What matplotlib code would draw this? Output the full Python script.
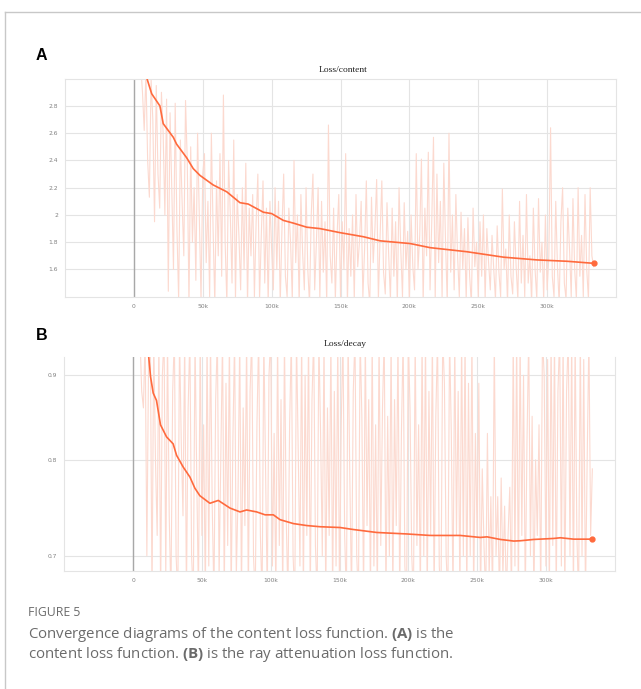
import numpy as np
import matplotlib
matplotlib.use("Agg")
import matplotlib.pyplot as plt
from matplotlib.ticker import FixedLocator, FixedFormatter, NullLocator
from matplotlib.lines import Line2D

plt.rcParams["mathtext.fontset"] = "custom"
plt.rcParams["mathtext.bf"] = "Open Sans:bold"
plt.rcParams["mathtext.rm"] = "Open Sans"

# raw (unsmoothed) training steps, one sample every 1.25k steps
raw_steps = np.arange(5000, 335000, 1250)

content_raw = [
    3.10, 2.90, 2.62, 3.05, 2.40, 2.13, 3.00, 2.70, 1.95, 2.95, 2.30, 2.05, 2.90, 2.60, 2.00, 2.85,
    1.44, 2.75, 2.20, 1.60, 2.82, 1.90, 1.38, 2.55, 2.10, 1.70, 2.84, 2.40, 1.35, 2.50, 1.80, 2.20,
    1.52, 2.60, 2.00, 1.38, 2.30, 2.45, 1.65, 2.10, 1.40, 2.60, 1.90, 1.35, 2.25, 1.70, 2.45, 1.55,
    2.88, 1.80, 1.35, 2.40, 2.00, 1.50, 2.55, 1.38, 2.15, 1.85, 1.45, 2.20, 1.60, 2.38, 1.35, 2.05,
    1.70, 2.15, 1.40, 1.95, 2.30, 1.38, 1.85, 2.25, 1.50, 2.05, 1.35, 2.10, 1.75, 1.45, 2.20, 1.60,
    2.10, 1.35, 1.90, 2.30, 1.55, 1.40, 2.05, 1.80, 1.38, 2.40, 1.65, 2.00, 1.35, 2.15, 1.72, 1.45,
    2.20, 1.60, 1.35, 2.00, 2.30, 1.45, 1.80, 2.20, 1.38, 2.10, 1.58, 1.95, 1.35, 2.66, 1.70, 1.50,
    2.05, 1.38, 1.85, 2.15, 1.40, 1.95, 1.60, 2.45, 1.35, 1.90, 1.55, 2.00, 1.38, 2.15, 1.62, 1.80,
    2.10, 1.40, 1.75, 2.25, 1.50, 1.35, 2.13, 1.65, 1.90, 2.26, 1.38, 1.85, 2.25, 1.58, 1.42, 2.09,
    1.70, 1.38, 2.05, 1.55, 1.95, 1.35, 2.20, 1.75, 1.40, 2.09, 1.60, 1.88, 1.36, 2.00, 1.62, 1.45,
    2.45, 1.60, 1.85, 2.41, 1.36, 2.05, 1.70, 2.46, 1.45, 1.95, 2.57, 1.38, 2.30, 1.65, 2.10, 1.40,
    2.38, 1.80, 1.35, 2.60, 1.58, 2.00, 1.45, 2.15, 1.70, 1.40, 2.02, 1.60, 1.90, 1.38, 1.98, 1.55,
    1.35, 2.05, 1.62, 1.80, 1.40, 1.95, 1.55, 2.00, 1.38, 1.90, 1.65, 1.45, 1.85, 1.60, 1.38, 1.92,
    1.58, 1.40, 2.19, 1.60, 1.75, 1.35, 2.00, 1.55, 1.42, 1.95, 1.62, 1.38, 2.10, 1.50, 1.85, 1.40,
    2.15, 1.50, 1.70, 1.35, 2.05, 1.60, 1.38, 2.12, 1.58, 1.80, 1.38, 2.00, 1.45, 1.70, 2.64, 1.55,
    1.40, 2.10, 1.62, 1.35, 1.95, 2.20, 1.50, 1.38, 2.05, 1.75, 1.40, 2.12, 1.60, 1.38, 2.20, 1.55,
    1.85, 1.40, 2.15, 1.60, 1.38, 2.20, 1.70, 1.62,
]

decay_raw = [
    0.95, 0.88, 0.86, 0.95, 0.70, 0.92, 0.95, 0.66, 0.95, 0.80, 0.72, 0.95, 0.66, 0.90, 0.95, 0.68,
    0.95, 0.74, 0.66, 0.88, 0.95, 0.70, 0.66, 0.95, 0.82, 0.74, 0.95, 0.66, 0.86, 0.95, 0.70, 0.66,
    0.95, 0.78, 0.66, 0.95, 0.72, 0.84, 0.66, 0.95, 0.69, 0.95, 0.75, 0.66, 0.87, 0.95, 0.68, 0.80,
    0.95, 0.66, 0.89, 0.71, 0.95, 0.66, 0.82, 0.95, 0.68, 0.76, 0.95, 0.66, 0.86, 0.73, 0.95, 0.66,
    0.88, 0.95, 0.70, 0.66, 0.84, 0.95, 0.72, 0.66, 0.95, 0.79, 0.66, 0.90, 0.95, 0.69, 0.83, 0.66,
    0.95, 0.71, 0.87, 0.66, 0.95, 0.74, 0.66, 0.84, 0.95, 0.70, 0.66, 0.95, 0.81, 0.69, 0.95, 0.66,
    0.90, 0.72, 0.95, 0.66, 0.87, 0.95, 0.71, 0.66, 0.95, 0.83, 0.70, 0.95, 0.66, 0.86, 0.72, 0.95,
    0.66, 0.88, 0.69, 0.95, 0.66, 0.84, 0.95, 0.72, 0.66, 0.95, 0.78, 0.66, 0.88, 0.95, 0.70, 0.66,
    0.95, 0.85, 0.66, 0.95, 0.73, 0.87, 0.66, 0.95, 0.69, 0.84, 0.66, 0.95, 0.71, 0.86, 0.95, 0.66,
    0.85, 0.70, 0.95, 0.66, 0.87, 0.73, 0.95, 0.66, 0.83, 0.95, 0.69, 0.66, 0.95, 0.86, 0.70, 0.66,
    0.95, 0.71, 0.84, 0.66, 0.95, 0.70, 0.95, 0.66, 0.88, 0.72, 0.95, 0.66, 0.85, 0.95, 0.69, 0.66,
    0.95, 0.89, 0.70, 0.66, 0.95, 0.83, 0.66, 0.95, 0.72, 0.88, 0.66, 0.95, 0.70, 0.95, 0.66, 0.89,
    0.70, 0.95, 0.66, 0.83, 0.72, 0.89, 0.66, 0.79, 0.71, 0.66, 0.83, 0.68, 0.76, 0.66, 0.95, 0.70,
    0.76, 0.66, 0.78, 0.68, 0.75, 0.66, 0.72, 0.77, 0.66, 0.95, 0.69, 0.95, 0.66, 0.95, 0.72, 0.90,
    0.66, 0.82, 0.95, 0.70, 0.85, 0.66, 0.80, 0.72, 0.84, 0.66, 0.95, 0.90, 0.69, 0.92, 0.66, 0.95,
    0.71, 0.95, 0.66, 0.88, 0.95, 0.69, 0.95, 0.66, 0.88, 0.95, 0.70, 0.95, 0.66, 0.95, 0.72, 0.66,
    0.95, 0.70, 0.92, 0.66, 0.80, 0.95, 0.72, 0.79,
]

# smoothed curves, steps in thousands
content_smooth_x = [8.0, 12.9, 18.9, 21.3, 28.6, 31.0, 38.3, 43.1, 48.0, 57.6,
                    67.4, 77.0, 83.0, 94.0, 100.0, 108.5, 115.8, 125.5, 135.0,
                    149.7, 166.7, 178.8, 200.6, 215.0, 241.8, 268.4, 292.6,
                    314.5, 333.8]
content_smooth_y = [3.05, 2.89, 2.80, 2.67, 2.57, 2.52, 2.42, 2.34, 2.29, 2.22,
                    2.17, 2.09, 2.08, 2.02, 2.01, 1.96, 1.94, 1.91, 1.90,
                    1.87, 1.84, 1.81, 1.79, 1.76, 1.73, 1.69, 1.67,
                    1.66, 1.645]

decay_smooth_x = [11.0, 12.7, 14.6, 17.0, 19.9, 24.3, 29.1, 31.6, 36.4, 41.3,
                  44.9, 48.5, 55.8, 61.9, 70.4, 77.7, 82.5, 89.8, 95.9, 101.9,
                  106.8, 116.5, 126.2, 135.9, 150.4, 160.0, 177.0, 199.0,
                  215.9, 237.7, 252.3, 257.2, 266.9, 276.6, 281.4, 291.1,
                  305.7, 310.5, 320.2, 333.8]
decay_smooth_y = [0.93, 0.898, 0.878, 0.869, 0.840, 0.826, 0.818, 0.805, 0.792,
                  0.781, 0.769, 0.761, 0.753, 0.756, 0.748, 0.744, 0.746,
                  0.744, 0.741, 0.741, 0.736, 0.732, 0.730, 0.7288, 0.728,
                  0.726, 0.723, 0.7215, 0.720, 0.720, 0.718, 0.7186, 0.716,
                  0.7144, 0.7147, 0.716, 0.717, 0.7177, 0.7163, 0.7163]

x_ticks = [0, 50000, 100000, 150000, 200000, 250000, 300000]
x_labels = ["0", "50k", "100k", "150k", "200k", "250k", "300k"]
content_yticks = [1.6, 1.8, 2.0, 2.2, 2.4, 2.6, 2.8]
content_ylabels = ["1.6", "1.8", "2", "2.2", "2.4", "2.6", "2.8"]
decay_yticks = [0.7, 0.8, 0.9]
decay_ylabels = ["0.7", "0.8", "0.9"]

RAW_C = "#fcd9cf"
LINE_C = "#ff6a3d"
GRID_C = "#e4e4e4"
TICK_C = "#808080"

fig = plt.figure(figsize=(6.41, 6.89), dpi=100)

# card border (top + left)
fig.add_artist(Line2D([4.5 / 641, 1], [1 - 11.5 / 689] * 2, color="#c8c8c8", lw=1))
fig.add_artist(Line2D([4.5 / 641] * 2, [0, 1 - 11.5 / 689], color="#c8c8c8", lw=1))


def style_axes(ax, yticks, ylabels, top_line):
    ax.set_xlim(-50000, 350000)
    ax.xaxis.set_major_locator(FixedLocator(x_ticks))
    ax.xaxis.set_major_formatter(FixedFormatter(x_labels))
    ax.yaxis.set_major_locator(FixedLocator(yticks))
    ax.yaxis.set_major_formatter(FixedFormatter(ylabels))
    ax.yaxis.set_minor_locator(NullLocator())
    ax.xaxis.set_minor_locator(NullLocator())
    ax.grid(True, color=GRID_C, lw=0.8)
    ax.set_axisbelow(True)
    ax.tick_params(length=0, labelsize=4.3, colors=TICK_C)
    ax.tick_params(axis="y", pad=5)
    ax.tick_params(axis="x", pad=5)
    for side in ["left", "bottom", "right"]:
        ax.spines[side].set_color(GRID_C)
        ax.spines[side].set_linewidth(0.8)
    ax.spines["top"].set_visible(top_line)
    ax.spines["top"].set_color(GRID_C)
    ax.spines["top"].set_linewidth(0.8)
    ax.axvline(0, color="#a8a8a8", lw=1.0, zorder=1)


# ---- panel A
axA = fig.add_axes([65 / 641, 1 - 296.7 / 689, 551 / 641, 218 / 689])
axA.plot(raw_steps, content_raw, color=RAW_C, lw=0.8, zorder=2)
cx = np.array(content_smooth_x) * 1000
axA.plot(cx, content_smooth_y, color=LINE_C, lw=1.2, zorder=3)
axA.plot(cx[-1], content_smooth_y[-1], "o", color=LINE_C, ms=3.5, zorder=4)
axA.set_ylim(1.4, 3.0)
style_axes(axA, content_yticks, content_ylabels, True)

# ---- panel B
axB = fig.add_axes([64.3 / 641, 1 - 570.7 / 689, 550.4 / 641, 214 / 689])
axB.set_yscale("log")
axB.plot(raw_steps, decay_raw, color=RAW_C, lw=0.8, zorder=2)
dx = np.array(decay_smooth_x) * 1000
axB.plot(dx, decay_smooth_y, color=LINE_C, lw=1.2, zorder=3)
axB.plot(dx[-1], decay_smooth_y[-1], "o", color=LINE_C, ms=3.5, zorder=4)
axB.set_ylim(0.6855, 0.9236)
style_axes(axB, decay_yticks, decay_ylabels, False)

# titles and panel letters
fig.text(343 / 641, 1 - 70 / 689, "Loss/content", ha="center", va="center",
         fontsize=6.8, family="Liberation Serif", color="#222222")
fig.text(345 / 641, 1 - 344 / 689, "Loss/decay", ha="center", va="center",
         fontsize=6.8, family="Liberation Serif", color="#222222")
fig.text(35.5 / 641, 1 - 55 / 689, "A", ha="left", va="center", fontsize=11.5,
         fontweight="bold", family="Liberation Sans", color="black")
fig.text(35.5 / 641, 1 - 335 / 689, "B", ha="left", va="center", fontsize=11.5,
         fontweight="bold", family="Liberation Sans", color="black")

# caption
cap_c = "#6b6b6b"
fig.text(28 / 641, 1 - 613 / 689, "FIGURE 5", ha="left", va="center",
         fontsize=8.8, family="Open Sans", color=cap_c)
fig.text(28 / 641, 1 - 635 / 689,
         r"Convergence diagrams of the content loss function. $\mathbf{(A)}$ is the",
         ha="left", va="center", fontsize=10.8, family="Open Sans", color=cap_c)
fig.text(28 / 641, 1 - 654 / 689,
         r"content loss function. $\mathbf{(B)}$ is the ray attenuation loss function.",
         ha="left", va="center", fontsize=10.8, family="Open Sans", color=cap_c)

fig.savefig("out.png", dpi=100)
